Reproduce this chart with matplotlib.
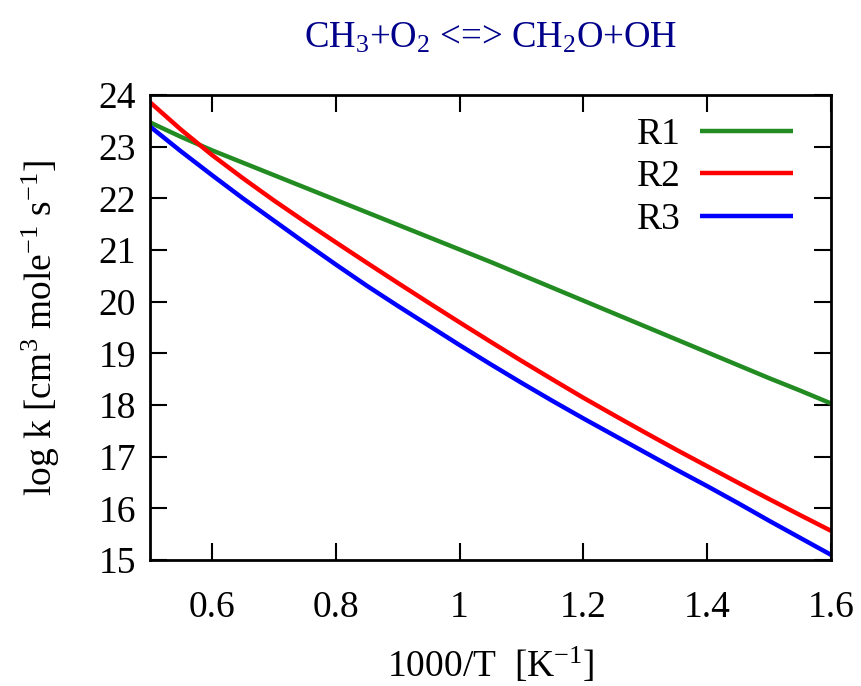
import matplotlib
matplotlib.use("Agg")
import matplotlib.pyplot as plt

plt.rcParams['font.family'] = ['Liberation Serif', 'DejaVu Serif']
plt.rcParams['mathtext.fontset'] = 'custom'
plt.rcParams['mathtext.rm'] = 'Liberation Serif'
plt.rcParams['mathtext.it'] = 'Liberation Serif:italic'
plt.rcParams['mathtext.default'] = 'regular'

inv_T = [0.5, 0.55, 0.6, 0.65, 0.7, 0.75, 0.8, 0.85, 0.9, 0.95, 1.0, 1.05,
         1.1, 1.15, 1.2, 1.25, 1.3, 1.35, 1.4, 1.45, 1.5, 1.55, 1.6]
r1 = [23.47, 23.19, 22.93, 22.69, 22.45, 22.21, 21.97, 21.73, 21.49, 21.25, 21.01, 20.77,
      20.52, 20.27, 20.02, 19.77, 19.52, 19.27, 19.02, 18.77, 18.52, 18.28, 18.03]
r2 = [23.86, 23.33, 22.84, 22.39, 21.96, 21.55, 21.15, 20.755, 20.365, 19.98, 19.60, 19.225,
      18.855, 18.495, 18.14, 17.80, 17.465, 17.135, 16.815, 16.495, 16.18, 15.87, 15.565]
r3 = [23.39, 22.91, 22.45, 22.00, 21.57, 21.14, 20.72, 20.31, 19.92, 19.54, 19.16, 18.79,
      18.43, 18.08, 17.74, 17.41, 17.08, 16.75, 16.43, 16.10, 15.76, 15.43, 15.10]
series_names = ['R1', 'R2', 'R3']
series_colors = ['#228B22', '#FF0000', '#0000FF']
xticks = [0.6, 0.8, 1.0, 1.2, 1.4, 1.6]
xtick_labels = ['0.6', '0.8', '1', '1.2', '1.4', '1.6']
yticks = [15, 16, 17, 18, 19, 20, 21, 22, 23, 24]

fig = plt.figure(figsize=(8.61, 6.86), dpi=100)
ax = fig.add_axes([150/861, 1-560/686, 681/861, 465/686])

for y, name, c in zip([r1, r2, r3], series_names, series_colors):
    ax.plot(inv_T, y, color=c, lw=3.2, label=name, solid_capstyle='butt',
            solid_joinstyle='round')

ax.set_xlim(0.5, 1.6)
ax.set_ylim(15, 24)
ax.set_xticks(xticks)
ax.set_xticklabels(xtick_labels)
ax.set_yticks(yticks)
ax.tick_params(direction='in', length=12, width=1.5, labelsize=27,
               top=True, right=True, labelcolor='black')
ax.tick_params(axis='x', pad=22)
ax.tick_params(axis='y', pad=10)
for s in ax.spines.values():
    s.set_linewidth(2)

ax.set_title(r'CH$_3$+O$_2$ <=> CH$_2$O+OH', color='#00008B', fontsize=26.5, pad=34)
ax.set_xlabel(r'1000/T  [K$^{-1}$]', fontsize=27, labelpad=15)
ax.set_ylabel(r'log k [cm$^3$ mole$^{-1}$ s$^{-1}$]', fontsize=27, labelpad=26)

leg = ax.legend(loc='upper right', bbox_to_anchor=(0.9552, 0.9685), borderaxespad=0,
                frameon=False, markerfirst=False, fontsize=27, borderpad=0.2,
                handlelength=2.48, handletextpad=0.5, labelspacing=0.22)

fig.savefig('out.png', dpi=100)
